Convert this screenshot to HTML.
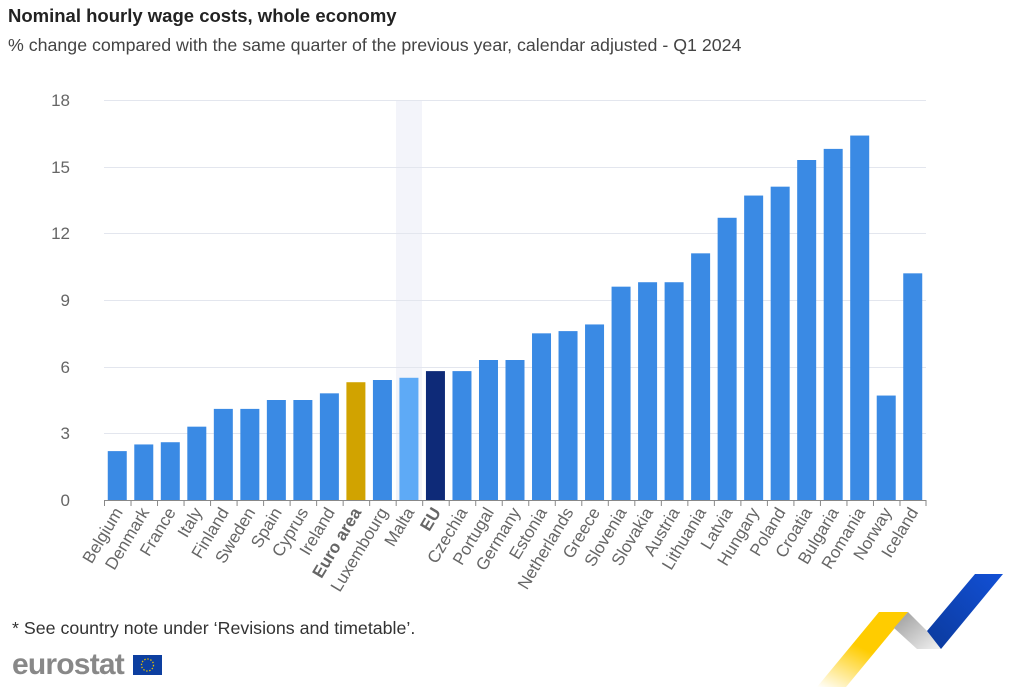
<!DOCTYPE html>
<html><head><meta charset="utf-8"><style>
body{margin:0;background:#fff;width:1028px;height:687px;overflow:hidden;font-family:"Liberation Sans",Arial,sans-serif}
</style></head><body>
<svg width="1028" height="687" xmlns="http://www.w3.org/2000/svg" font-family="Liberation Sans, Arial, sans-serif">
<text x="8" y="22" font-size="18.5" font-weight="bold" fill="#222">Nominal hourly wage costs, whole economy</text>
<text x="8" y="51" font-size="17.8" fill="#444">% change compared with the same quarter of the previous year, calendar adjusted - Q1 2024</text>
<rect x="396" y="100" width="26" height="400" fill="#f3f4fa"/>
<g stroke="#e3e6ee" stroke-width="1">
<line x1="104" x2="926" y1="100.5" y2="100.5"/><line x1="104" x2="926" y1="167.5" y2="167.5"/>
<line x1="104" x2="926" y1="233.5" y2="233.5"/><line x1="104" x2="926" y1="300.5" y2="300.5"/>
<line x1="104" x2="926" y1="367.5" y2="367.5"/><line x1="104" x2="926" y1="433.5" y2="433.5"/>
</g>
<g font-size="17" fill="#666" text-anchor="end">
<text x="70" y="106">18</text><text x="70" y="173">15</text><text x="70" y="239">12</text>
<text x="70" y="306">9</text><text x="70" y="373">6</text><text x="70" y="439">3</text><text x="70" y="506">0</text>
</g>
<g id="bars"></g>
<line x1="104" x2="926" y1="500.5" y2="500.5" stroke="#888"/>
<g id="ticks" stroke="#888"></g>
<g id="labels" font-size="17" fill="#666"></g>
<text x="12" y="634" font-size="17.8" fill="#333">* See country note under ‘Revisions and timetable’.</text>
<text x="12" y="674" font-size="30" font-weight="bold" fill="#888" letter-spacing="-0.8">eurostat</text>
<rect x="133" y="655" width="29" height="20" fill="#0d3fa0"/>
<circle cx="147.5" cy="665" r="6" fill="none" stroke="#e8c000" stroke-width="1.3" stroke-dasharray="1.4 1.7"/>
<defs>
<linearGradient id="gy" x1="0" y1="1" x2="0.6" y2="0"><stop offset="0" stop-color="#fff"/><stop offset="0.6" stop-color="#ffcc00"/></linearGradient>
<linearGradient id="gg" x1="0" y1="0" x2="1" y2="1"><stop offset="0" stop-color="#999"/><stop offset="1" stop-color="#f2f2f2"/></linearGradient>
<linearGradient id="gb" x1="0" y1="1" x2="1" y2="0"><stop offset="0" stop-color="#0b3a9c"/><stop offset="1" stop-color="#1250d6"/></linearGradient>
</defs>
<polygon points="879,612 908,612 846,687 817,687" fill="url(#gy)"/>
<polygon points="908,612 927,631 941,649 917,649 894,628" fill="url(#gg)"/>
<polygon points="975,574 1003,574 941,649 927,631" fill="url(#gb)"/>
</svg>
<script>
const d=[["Belgium",2.2],["Denmark",2.5],["France",2.6],["Italy",3.3],["Finland",4.1],["Sweden",4.1],["Spain",4.5],["Cyprus",4.5],["Ireland",4.8],["Euro area",5.3],["Luxembourg",5.4],["Malta",5.5],["EU",5.8],["Czechia",5.8],["Portugal",6.3],["Germany",6.3],["Estonia",7.5],["Netherlands",7.6],["Greece",7.9],["Slovenia",9.6],["Slovakia",9.8],["Austria",9.8],["Lithuania",11.1],["Latvia",12.7],["Hungary",13.7],["Poland",14.1],["Croatia",15.3],["Bulgaria",15.8],["Romania",16.4],["Norway",4.7],["Iceland",10.2]];
const ns="http://www.w3.org/2000/svg",w=822/31;
const B=document.getElementById("bars"),T=document.getElementById("ticks"),L=document.getElementById("labels");
d.forEach((e,i)=>{const l=104+i*w,c=l+w/2,h=e[1]*400/18;
const r=document.createElementNS(ns,"rect");r.setAttribute("x",c-9.5);r.setAttribute("width",19);r.setAttribute("y",500-h);r.setAttribute("height",h);
r.setAttribute("fill",e[0]=="Euro area"?"#d1a300":e[0]=="EU"?"#0e2a78":e[0]=="Malta"?"#5eaaf6":"#3a8ae4");B.appendChild(r);
const t=document.createElementNS(ns,"line");t.setAttribute("x1",l+0.5);t.setAttribute("x2",l+0.5);t.setAttribute("y1",500);t.setAttribute("y2",506);T.appendChild(t);
const x=document.createElementNS(ns,"text");x.setAttribute("text-anchor","end");x.setAttribute("transform",`translate(${c+6},512) rotate(-59)`);
if(e[0]=="Euro area"||e[0]=="EU")x.setAttribute("font-weight","bold");x.textContent=e[0];L.appendChild(x);});
const t=document.createElementNS(ns,"line");t.setAttribute("x1",926);t.setAttribute("x2",926);t.setAttribute("y1",500);t.setAttribute("y2",506);T.appendChild(t);
</script>
</body></html>
